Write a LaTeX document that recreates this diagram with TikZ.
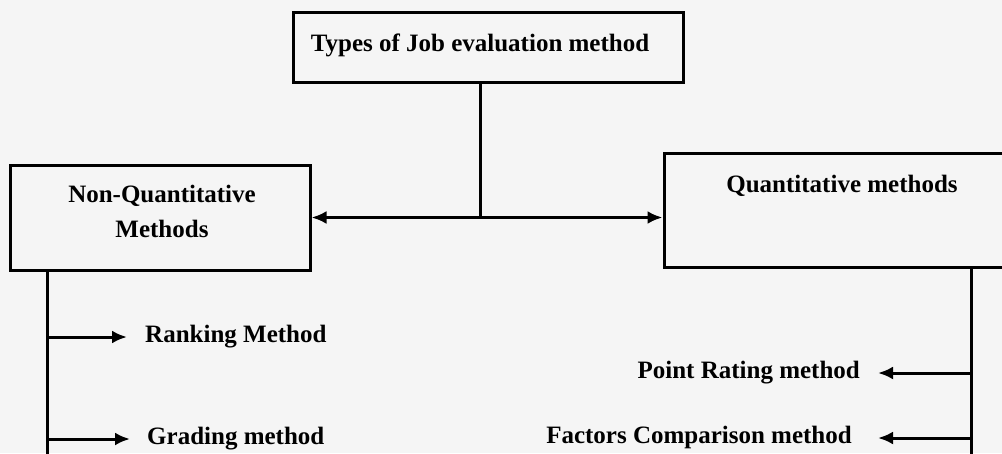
\documentclass[tikz,border=0pt]{standalone}
\usepackage{fontspec}
\setmainfont{Liberation Serif}
\usetikzlibrary{arrows.meta}
\begin{document}
\begin{tikzpicture}[x=1pt,y=-1pt,
  box/.style={draw, line width=3pt, rectangle, inner sep=0pt},
  lbl/.style={font=\bfseries\fontsize{25}{35}\selectfont, inner sep=0pt, align=center},
  item/.style={lbl, text height=15pt, text depth=5pt},
  link/.style={line width=3pt},
  tip/.style={-{Latex[length=15pt,width=13pt]}},
  arr/.style={link, tip},
  arrs/.style={link, {Latex[length=15pt,width=13pt]}-{Latex[length=15pt,width=13pt]}}
]
% page
\fill[black!4] (0,0) rectangle (1002,453);
\useasboundingbox (0,0) rectangle (1002,453);
\clip (0,0) rectangle (1002,453);

% boxes
\node[box, minimum width=390pt, minimum height=70pt] (types) at (488,47) {};
\node[lbl, anchor=base] (typesT) at (480,51) {Types of Job evaluation method};

\node[box, minimum width=300pt, minimum height=105pt] (nq) at (160,217.5) {};
\node[lbl] (nqT) at (162,211) {Non-Quantitative\\Methods};

\node[box, minimum width=348pt, minimum height=114pt] (qm) at (838,210) {};
\node[lbl, anchor=base] (qmT) at (842,192) {Quantitative methods};

% top split
\coordinate (hub) at (480,217);
\draw[link] (types.south -| hub) -- (hub);
\draw[arrs] (nq.east) -- (nq.east -| qm.west);

% non-quantitative branch
\coordinate (lend) at (47,460);
\draw[link] (nq.south -| lend) -- (lend);
\node[item, anchor=west] (rank) at (145,337) {Ranking Method};
\node[item, anchor=west] (grade) at (147,439) {Grading method};
\draw[arr, shorten >=18pt] (rank.west -| lend) -- (rank.west);
\draw[arr, shorten >=17pt] (grade.west -| lend) -- (grade.west);

% quantitative branch
\coordinate (rend) at (971,460);
\draw[link] (qm.south -| rend) -- (rend);
\node[item, anchor=east] (point) at (860,373) {Point Rating method};
\node[item, anchor=east] (factor) at (852,438) {Factors Comparison method};
\draw[arr, shorten >=18pt] (point.east -| rend) -- (point.east);
\draw[arr, shorten >=26pt] (factor.east -| rend) -- (factor.east);
\end{tikzpicture}
\end{document}
